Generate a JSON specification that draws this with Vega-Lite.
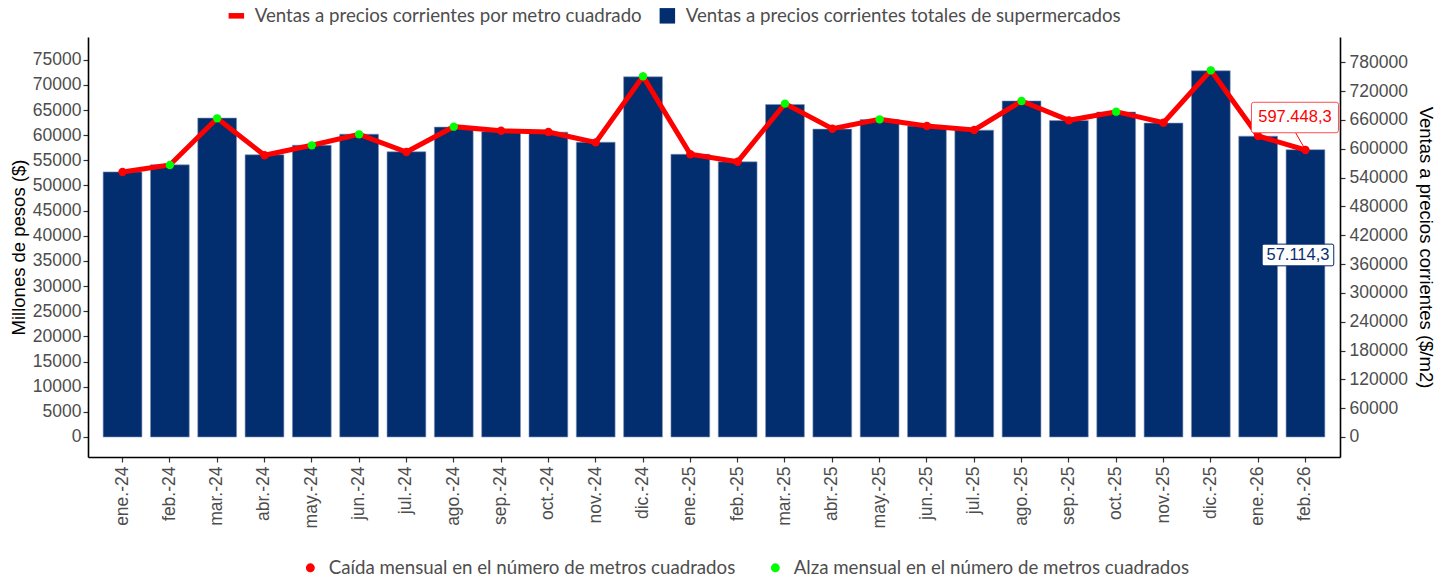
{
  "$schema": "https://vega.github.io/schema/vega-lite/v6.json",
  "width": 1252,
  "height": 420,
  "autosize": {"type": "none"},
  "padding": {"left": 88, "top": 37, "right": 104, "bottom": 122},
  "background": "white",
  "config": {
    "view": {"stroke": null},
    "locale": {"number": {"decimal": ",", "thousands": ".", "grouping": [3], "currency": ["$", ""]}},
    "axis": {
      "grid": false,
      "labelFont": "Liberation Sans",
      "labelFontSize": 17.5,
      "labelColor": "#4d4d4d",
      "titleFont": "Liberation Sans",
      "titleFontSize": 18.5,
      "titleFontWeight": "normal",
      "titleColor": "#000000",
      "domainColor": "#000000",
      "domainWidth": 1.6,
      "tickColor": "#333333",
      "tickWidth": 1.2,
      "tickSize": 5
    },
    "legend": {"labelFont": "Lato", "labelFontSize": 18.7, "labelColor": "#4d4d4d", "labelLimit": 0, "padding": 0}
  },
  "data": {
    "values": [
      {"mes": "ene.-24", "ventas": 52700, "m2": 551600, "cambio": "Caída mensual en el número de metros cuadrados"},
      {"mes": "feb.-24", "ventas": 54100, "m2": 566200, "cambio": "Alza mensual en el número de metros cuadrados"},
      {"mes": "mar.-24", "ventas": 63400, "m2": 663400, "cambio": "Alza mensual en el número de metros cuadrados"},
      {"mes": "abr.-24", "ventas": 56100, "m2": 586400, "cambio": "Caída mensual en el número de metros cuadrados"},
      {"mes": "may.-24", "ventas": 58000, "m2": 607200, "cambio": "Alza mensual en el número de metros cuadrados"},
      {"mes": "jun.-24", "ventas": 60200, "m2": 630100, "cambio": "Alza mensual en el número de metros cuadrados"},
      {"mes": "jul.-24", "ventas": 56700, "m2": 593300, "cambio": "Caída mensual en el número de metros cuadrados"},
      {"mes": "ago.-24", "ventas": 61600, "m2": 646000, "cambio": "Alza mensual en el número de metros cuadrados"},
      {"mes": "sep.-24", "ventas": 60700, "m2": 637600, "cambio": "Caída mensual en el número de metros cuadrados"},
      {"mes": "oct.-24", "ventas": 60600, "m2": 634900, "cambio": "Caída mensual en el número de metros cuadrados"},
      {"mes": "nov.-24", "ventas": 58600, "m2": 613400, "cambio": "Caída mensual en el número de metros cuadrados"},
      {"mes": "dic.-24", "ventas": 71600, "m2": 750800, "cambio": "Alza mensual en el número de metros cuadrados"},
      {"mes": "ene.-25", "ventas": 56200, "m2": 588500, "cambio": "Caída mensual en el número de metros cuadrados"},
      {"mes": "feb.-25", "ventas": 54700, "m2": 573100, "cambio": "Caída mensual en el número de metros cuadrados"},
      {"mes": "mar.-25", "ventas": 66100, "m2": 693900, "cambio": "Alza mensual en el número de metros cuadrados"},
      {"mes": "abr.-25", "ventas": 61200, "m2": 641800, "cambio": "Caída mensual en el número de metros cuadrados"},
      {"mes": "may.-25", "ventas": 63100, "m2": 661300, "cambio": "Alza mensual en el número de metros cuadrados"},
      {"mes": "jun.-25", "ventas": 61800, "m2": 647400, "cambio": "Caída mensual en el número de metros cuadrados"},
      {"mes": "jul.-25", "ventas": 61000, "m2": 639100, "cambio": "Caída mensual en el número de metros cuadrados"},
      {"mes": "ago.-25", "ventas": 66800, "m2": 699400, "cambio": "Alza mensual en el número de metros cuadrados"},
      {"mes": "sep.-25", "ventas": 62900, "m2": 659200, "cambio": "Caída mensual en el número de metros cuadrados"},
      {"mes": "oct.-25", "ventas": 64600, "m2": 677200, "cambio": "Alza mensual en el número de metros cuadrados"},
      {"mes": "nov.-25", "ventas": 62400, "m2": 654300, "cambio": "Caída mensual en el número de metros cuadrados"},
      {"mes": "dic.-25", "ventas": 72800, "m2": 763300, "cambio": "Alza mensual en el número de metros cuadrados"},
      {"mes": "ene.-26", "ventas": 59800, "m2": 626600, "cambio": "Caída mensual en el número de metros cuadrados"},
      {"mes": "feb.-26", "ventas": 57114.3, "m2": 597448.3, "cambio": "Caída mensual en el número de metros cuadrados"}
    ]
  },
  "encoding": {
    "x": {
      "field": "mes",
      "type": "nominal",
      "sort": null,
      "scale": {"paddingInner": 0.18, "paddingOuter": 0.32},
      "axis": {"title": null, "labelAngle": -90, "labelPadding": 4}
    }
  },
  "layer": [
    {
      "encoding": {
        "y": {
          "field": "ventas",
          "type": "quantitative",
          "scale": {"domain": [-3976, 79512], "nice": false, "zero": false},
          "axis": {
            "orient": "left",
            "title": "Millones de pesos ($)",
            "values": [0, 5000, 10000, 15000, 20000, 25000, 30000, 35000, 40000, 45000, 50000, 55000, 60000, 65000, 70000, 75000],
            "format": "d",
            "labelPadding": 2,
            "titlePadding": 4
          }
        }
      },
      "layer": [
        {"mark": {"type": "bar", "color": "#022d6e", "stroke": "#8193b8", "strokeWidth": 0.6}},
        {
          "transform": [{"filter": "datum.mes === 'feb.-26'"}],
          "mark": {
            "type": "point",
            "shape": "M-0.95,-0.303H0.95Q1,-0.303 1,-0.253V0.253Q1,0.303 0.95,0.303H-0.95Q-1,0.303 -1,0.253V-0.253Q-1,-0.303 -0.95,-0.303Z",
            "size": 5127,
            "filled": true,
            "fill": "white",
            "stroke": "#022d6e",
            "strokeWidth": 1,
            "opacity": 1,
            "xOffset": -7.5,
            "yOffset": 105.3
          }
        },
        {
          "transform": [{"filter": "datum.mes === 'feb.-26'"}],
          "mark": {"type": "text", "dx": -7.5, "dy": 105.3, "font": "Liberation Sans", "fontSize": 16.5, "color": "#0b2e72"},
          "encoding": {"text": {"field": "ventas", "type": "quantitative", "format": ",.1f"}}
        }
      ]
    },
    {
      "encoding": {
        "y": {
          "field": "m2",
          "type": "quantitative",
          "scale": {"domain": [-41634, 832674], "nice": false, "zero": false},
          "axis": {
            "orient": "right",
            "title": "Ventas a precios corrientes ($/m2)",
            "values": [0, 60000, 120000, 180000, 240000, 300000, 360000, 420000, 480000, 540000, 600000, 660000, 720000, 780000],
            "format": "d",
            "labelPadding": 4,
            "titlePadding": 8
          }
        }
      },
      "layer": [
        {"mark": {"type": "line", "color": "#ff0000", "strokeWidth": 5}},
        {
          "mark": {"type": "point", "filled": true, "size": 70, "opacity": 1},
          "encoding": {
            "fill": {
              "field": "cambio",
              "type": "nominal",
              "scale": {
                "domain": ["Caída mensual en el número de metros cuadrados", "Alza mensual en el número de metros cuadrados"],
                "range": ["#ff0000", "#00ff00"]
              },
              "legend": {
                "orient": "none",
                "legendX": 213,
                "legendY": 521,
                "direction": "horizontal",
                "title": null,
                "symbolType": "circle",
                "symbolSize": 80,
                "symbolStrokeWidth": 0,
                "labelOffset": 9,
                "columnPadding": 30
              }
            }
          }
        },
        {
          "transform": [{"filter": "datum.mes === 'feb.-26'"}],
          "mark": {"type": "rule", "color": "#ff0000", "strokeWidth": 1, "x2Offset": -10, "y2Offset": -17.5},
          "encoding": {"x2": {"field": "mes"}, "y2": {"field": "m2"}}
        },
        {
          "transform": [{"filter": "datum.mes === 'feb.-26'"}],
          "mark": {
            "type": "point",
            "shape": "M-0.95,-0.35H0.95Q1,-0.35 1,-0.3V0.3Q1,0.35 0.95,0.35H-0.95Q-1,0.35 -1,0.3V-0.3Q-1,-0.35 -0.95,-0.35Z",
            "size": 7569,
            "filled": true,
            "fill": "white",
            "stroke": "#ff4d4d",
            "strokeWidth": 1,
            "opacity": 1,
            "xOffset": -10.5,
            "yOffset": -32.5
          }
        },
        {
          "transform": [{"filter": "datum.mes === 'feb.-26'"}],
          "mark": {"type": "text", "dx": -10.5, "dy": -32.5, "font": "Liberation Sans", "fontSize": 16.5, "color": "#ff0000"},
          "encoding": {"text": {"field": "m2", "type": "quantitative", "format": ",.1f"}}
        },
        {
          "transform": [{"filter": "false"}],
          "mark": {"type": "point", "filled": true, "opacity": 1},
          "encoding": {
            "color": {
              "field": "serie",
              "type": "nominal",
              "scale": {
                "domain": ["Ventas a precios corrientes por metro cuadrado", "Ventas a precios corrientes totales de supermercados"],
                "range": ["#ff0000", "#022d6e"]
              },
              "legend": {
                "orient": "none",
                "legendX": 139,
                "legendY": -31,
                "direction": "horizontal",
                "title": null,
                "symbolSize": 240,
                "symbolStrokeWidth": 0,
                "symbolOpacity": 1,
                "labelOffset": 9,
                "columnPadding": 15
              }
            },
            "shape": {
              "field": "serie",
              "type": "nominal",
              "scale": {
                "domain": ["Ventas a precios corrientes por metro cuadrado", "Ventas a precios corrientes totales de supermercados"],
                "range": ["M-1,-0.36H1V0.36H-1Z", "M-1,-1H1V1H-1Z"]
              },
              "legend": {
                "orient": "none",
                "legendX": 139,
                "legendY": -31,
                "direction": "horizontal",
                "title": null,
                "symbolSize": 240,
                "symbolStrokeWidth": 0,
                "symbolOpacity": 1,
                "labelOffset": 9,
                "columnPadding": 15
              }
            }
          }
        }
      ]
    }
  ],
  "resolve": {"scale": {"y": "independent"}}
}
